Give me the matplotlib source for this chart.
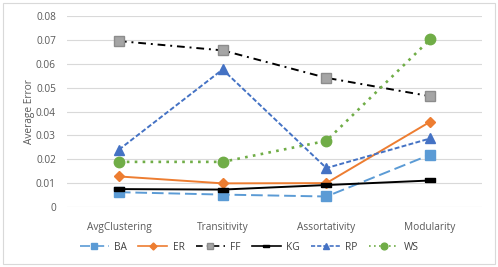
import matplotlib.pyplot as plt
from matplotlib.patches import Rectangle

plt.rcParams['font.family'] = ['Open Sans', 'DejaVu Sans']

metrics = ['AvgClustering', 'Transitivity', 'Assortativity', 'Modularity']
ba = [0.0062, 0.0052, 0.0044, 0.0219]
er = [0.0128, 0.0099, 0.0100, 0.0357]
ff = [0.0695, 0.0656, 0.0541, 0.0464]
kg = [0.0075, 0.0073, 0.0092, 0.0111]
rp = [0.0240, 0.0576, 0.0163, 0.0287]
ws = [0.0189, 0.0189, 0.0277, 0.0702]
yticks = [0, 0.01, 0.02, 0.03, 0.04, 0.05, 0.06, 0.07, 0.08]
ytick_labels = ['0', '0.01', '0.02', '0.03', '0.04', '0.05', '0.06', '0.07', '0.08']

W, H = 498, 267
fig = plt.figure(figsize=(W / 100, H / 100), dpi=100)
ax = fig.add_axes([67 / W, 1 - 207 / H, (482 - 67) / W, (207 - 16) / H])

# chart border like excel
fig.patches.append(Rectangle((3 / W, 3 / H), 1 - 6 / W, 1 - 6 / H,
                             transform=fig.transFigure, fill=False,
                             edgecolor='#d9d9d9', linewidth=0.8))

x = range(len(metrics))
bar = [(-1, -0.45), (1, -0.45), (1, 0.45), (-1, 0.45), (-1, -0.45)]

series = [
    ('BA', ba, dict(color='#5B9BD5', linestyle=(0, (6, 2.5)), marker='s', ms=6.5,
                    mfc='#5B9BD5', mec='#5B9BD5')),
    ('ER', er, dict(color='#ED7D31', linestyle='-', marker='D', ms=5.5,
                    mfc='#ED7D31', mec='#ED7D31')),
    ('FF', ff, dict(color='black', linestyle=(0, (4, 2.5, 1, 2.5)), marker='s', ms=7.5,
                    mfc='#A5A5A5', mec='#8c8c8c')),
    ('KG', kg, dict(color='black', linestyle='-', marker=bar, ms=7,
                    mfc='black', mec='black')),
    ('RP', rp, dict(color='#4472C4', linestyle=(0, (2.5, 1.2)), marker='^', ms=7,
                    mfc='#4472C4', mec='#4472C4')),
    ('WS', ws, dict(color='#70AD47', linestyle=(0, (1, 2)), marker='o', ms=7.5,
                    mfc='#70AD47', mec='#70AD47')),
]

for name, vals, style in series:
    lw = 1.9 if name == 'WS' else 1.4
    ax.plot(x, vals, label=name, linewidth=lw, zorder=3, **style)

ax.set_xlim(-0.5, 3.5)
ax.set_ylim(0, 0.08)
ax.set_yticks(yticks)
ax.set_yticklabels(ytick_labels)
ax.set_xticks(list(x))
ax.set_xticklabels(metrics)
ax.grid(axis='y', color='#d9d9d9', linewidth=0.8)
ax.set_axisbelow(True)
for s in ax.spines.values():
    s.set_visible(False)
ax.tick_params(length=0, labelsize=7.3, labelcolor='#595959')
ax.tick_params(axis='x', pad=11)
ax.tick_params(axis='y', pad=8)
ax.set_ylabel('Average Error', fontsize=7.3, color='#595959', labelpad=1)

handles, labels = ax.get_legend_handles_labels()
leg = fig.legend(handles, labels, ncol=6, loc='center', bbox_to_anchor=(0.5, 1 - 247 / H),
                 frameon=False, fontsize=7.3, handlelength=2.9, columnspacing=1.1,
                 handletextpad=0.5, markerscale=0.65, labelcolor='#404040')
for ln in leg.get_lines():
    ln.set_linewidth(1.2)

fig.savefig('out.png', dpi=100)
